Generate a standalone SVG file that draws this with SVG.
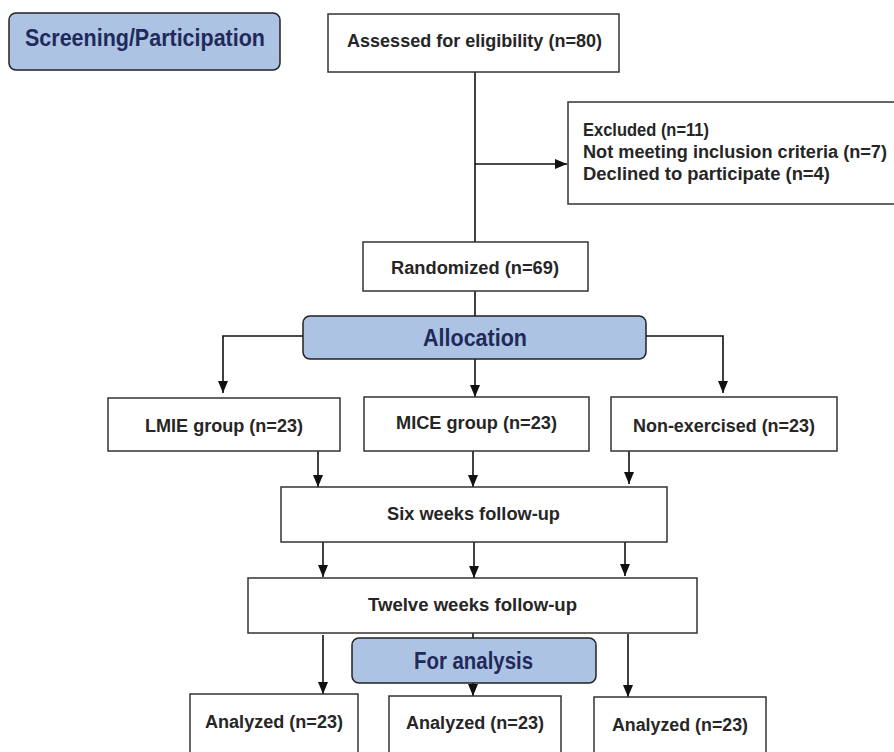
<svg xmlns="http://www.w3.org/2000/svg" width="894" height="752" viewBox="0 0 894 752">
<defs>
<style>
.box{fill:#ffffff;stroke:#333333;stroke-width:1.5}
.hdr{fill:#adc3e4;stroke:#222222;stroke-width:1.5}
.t{font-family:"Liberation Sans",Arial,sans-serif;font-weight:bold;font-size:18px;fill:#262626}
.th{font-family:"Liberation Sans",Arial,sans-serif;font-weight:bold;font-size:23px;fill:#1f2a5a}
.c{text-anchor:middle}
.ln{fill:none;stroke:#111111;stroke-width:1.6}
</style>
<marker id="arr" viewBox="0 0 12 10" markerWidth="12" markerHeight="10" refX="12" refY="5" orient="auto" markerUnits="userSpaceOnUse">
<path d="M0,0 L12,5 L0,10 z" fill="#111111"/>
</marker>
</defs>
<rect width="894" height="752" fill="#ffffff"/>
<g id="connectors">
<line class="ln" x1="475" y1="72" x2="475" y2="242"/>
<line class="ln" x1="475" y1="164" x2="567" y2="164" marker-end="url(#arr)"/>
<line class="ln" x1="475" y1="291" x2="475" y2="316"/>
<path class="ln" d="M303,336 H223 V393" marker-end="url(#arr)"/>
<line class="ln" x1="475" y1="359" x2="475" y2="397" marker-end="url(#arr)"/>
<path class="ln" d="M646,336 H723 V393" marker-end="url(#arr)"/>
<line class="ln" x1="318" y1="451" x2="318" y2="487" marker-end="url(#arr)"/>
<line class="ln" x1="473" y1="451" x2="473" y2="487" marker-end="url(#arr)"/>
<line class="ln" x1="629" y1="451" x2="629" y2="484" marker-end="url(#arr)"/>
<line class="ln" x1="323" y1="539" x2="323" y2="577" marker-end="url(#arr)"/>
<line class="ln" x1="474" y1="542" x2="474" y2="578" marker-end="url(#arr)"/>
<line class="ln" x1="625" y1="540" x2="625" y2="576" marker-end="url(#arr)"/>
<line class="ln" x1="323" y1="635" x2="323" y2="694" marker-end="url(#arr)"/>
<line class="ln" x1="473" y1="633" x2="473" y2="638"/>
<line class="ln" x1="473" y1="683" x2="473" y2="696" marker-end="url(#arr)"/>
<line class="ln" x1="628" y1="634" x2="628" y2="697" marker-end="url(#arr)"/>
</g>
<g id="screening">
<rect class="hdr" x="9" y="13" width="271" height="57" rx="7"/>
<text class="th c" x="145" y="46" font-size="22" textLength="240" lengthAdjust="spacingAndGlyphs">Screening/Participation</text>
</g>
<g id="assessed">
<rect class="box" x="328" y="14" width="291" height="58"/>
<text class="t c" x="474.5" y="47" textLength="255" lengthAdjust="spacingAndGlyphs">Assessed for eligibility (n=80)</text>
</g>
<g id="excluded">
<rect class="box" x="568" y="102" width="330" height="102"/>
<text class="t" x="583" y="136" font-size="17.5" textLength="126" lengthAdjust="spacingAndGlyphs">Excluded (n=11)</text>
<text class="t" x="583" y="158" font-size="17.5" textLength="304" lengthAdjust="spacingAndGlyphs">Not meeting inclusion criteria (n=7)</text>
<text class="t" x="583" y="180" font-size="17.5" textLength="247" lengthAdjust="spacingAndGlyphs">Declined to participate (n=4)</text>
</g>
<g id="randomized">
<rect class="box" x="363" y="242" width="225" height="49"/>
<text class="t c" x="475" y="274" textLength="168" lengthAdjust="spacingAndGlyphs">Randomized (n=69)</text>
</g>
<g id="allocation">
<rect class="hdr" x="303" y="316" width="343" height="43" rx="7"/>
<text class="th c" x="475" y="346" textLength="104" lengthAdjust="spacingAndGlyphs">Allocation</text>
</g>
<g id="lmie">
<rect class="box" x="108" y="398" width="232" height="53"/>
<text class="t c" x="224" y="432" textLength="158" lengthAdjust="spacingAndGlyphs">LMIE group (n=23)</text>
</g>
<g id="mice">
<rect class="box" x="364" y="397" width="225" height="54"/>
<text class="t c" x="476.5" y="429" textLength="161" lengthAdjust="spacingAndGlyphs">MICE group (n=23)</text>
</g>
<g id="nonexercised">
<rect class="box" x="611" y="397" width="226" height="54"/>
<text class="t c" x="724" y="432" textLength="182" lengthAdjust="spacingAndGlyphs">Non-exercised (n=23)</text>
</g>
<g id="six-weeks">
<rect class="box" x="281" y="487" width="386" height="55"/>
<text class="t c" x="473.5" y="520" textLength="173" lengthAdjust="spacingAndGlyphs">Six weeks follow-up</text>
</g>
<g id="twelve-weeks">
<rect class="box" x="248" y="578" width="449" height="55"/>
<text class="t c" x="472.5" y="611" textLength="209" lengthAdjust="spacingAndGlyphs">Twelve weeks follow-up</text>
</g>
<g id="for-analysis">
<rect class="hdr" x="352" y="638" width="244" height="45" rx="7"/>
<text class="th c" x="473.5" y="669" textLength="119" lengthAdjust="spacingAndGlyphs">For analysis</text>
</g>
<g id="analyzed-1">
<rect class="box" x="190" y="694" width="168" height="70"/>
<text class="t c" x="274" y="728" textLength="138" lengthAdjust="spacingAndGlyphs">Analyzed (n=23)</text>
</g>
<g id="analyzed-2">
<rect class="box" x="389" y="696" width="172" height="70"/>
<text class="t c" x="475" y="729" textLength="138" lengthAdjust="spacingAndGlyphs">Analyzed (n=23)</text>
</g>
<g id="analyzed-3">
<rect class="box" x="594" y="697" width="172" height="70"/>
<text class="t c" x="680" y="731" textLength="136" lengthAdjust="spacingAndGlyphs">Analyzed (n=23)</text>
</g>
</svg>
